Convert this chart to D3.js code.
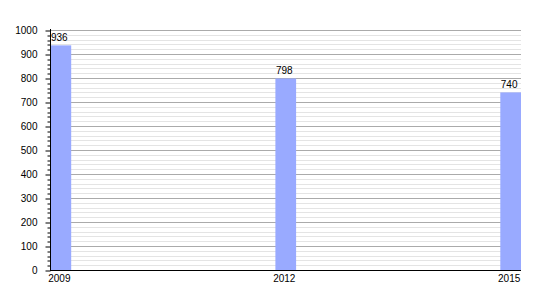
<!DOCTYPE html>
<html><head><meta charset="utf-8">
<script src="https://cdn.jsdelivr.net/npm/d3@7"></script>
<style>body{margin:0;background:#fff}text{font-family:"Liberation Sans",Arial,sans-serif}</style>
</head><body>
<svg id="c" width="550" height="300"></svg>
<script>
const years = [2009, 2012, 2015];
const values = [936, 798, 740];
const yTicks = [0,100,200,300,400,500,600,700,800,900,1000];

const svg = d3.select("#c");
const L = 50, R = 521, T = 30, B = 270, bw = 20.7;
const x = d3.scaleLinear().domain([2009, 2015]).range([L + 0.5 + bw/2, R - bw/2]);
const y = d3.scaleLinear().domain([0, 1000]).range([B, T]);

// minor grid
const minor = d3.range(0, 1001, 20).filter(v => v % 100 !== 0);
svg.append("g").selectAll("line").data(minor).join("line")
  .attr("x1", L).attr("x2", R).attr("y1", d => Math.round(y(d)) + 0.5).attr("y2", d => Math.round(y(d)) + 0.5)
  .attr("stroke", "#e4e4e4").attr("stroke-width", 1);
svg.append("g").selectAll("line").data(yTicks.filter(v => v > 0)).join("line")
  .attr("x1", L).attr("x2", R).attr("y1", d => Math.round(y(d)) + 0.5).attr("y2", d => Math.round(y(d)) + 0.5)
  .attr("stroke", "#aaaaaa").attr("stroke-width", 1);

// bars
svg.append("g").selectAll("rect").data(years).join("rect")
  .attr("x", (d) => x(d) - bw/2).attr("width", bw)
  .attr("y", (d, i) => y(values[i])).attr("height", (d, i) => B - y(values[i]))
  .attr("fill", "#99aaff");

// value labels
svg.append("g").selectAll("text").data(years).join("text")
  .attr("x", d => x(d) - 1.5).attr("y", (d, i) => y(values[i]) - 4)
  .attr("text-anchor", "middle").attr("font-size", 10).attr("fill", "#000")
  .text((d, i) => values[i]);

// y axis minor ticks
svg.append("g").attr("transform", `translate(${L + 0.5},0)`)
  .call(d3.axisLeft(y).tickValues(minor).tickSize(3).tickFormat(""))
  .call(g => g.select(".domain").remove())
  .call(g => g.selectAll("line").attr("transform", d => `translate(0,${Math.round(y(d)) + 0.5 - y(d)})`));
// y axis major
const ya = svg.append("g").attr("transform", `translate(${L + 0.5},0)`)
  .call(d3.axisLeft(y).tickValues(yTicks).tickSize(5).tickPadding(8).tickFormat(d3.format("d")))
  .call(g => g.select(".domain").attr("d", `M0,${T - 1}V${B + 0.5}`).attr("stroke", "#000"));
ya.selectAll(".tick line").attr("transform", d => `translate(0,${Math.round(y(d)) + 0.5 - y(d)})`);
ya.selectAll("text").attr("font-size", 10).attr("font-family", '"Liberation Sans",Arial,sans-serif').attr("fill", "#000");

// x axis
svg.append("line").attr("x1", L).attr("x2", R).attr("y1", B + 0.5).attr("y2", B + 0.5).attr("stroke", "#000");
svg.append("g").selectAll("text").data(years).join("text")
  .attr("x", d => x(d) - 1.5).attr("y", 282)
  .attr("text-anchor", "middle").attr("font-size", 10).attr("fill", "#000")
  .text(d => d);
</script>
</body></html>
